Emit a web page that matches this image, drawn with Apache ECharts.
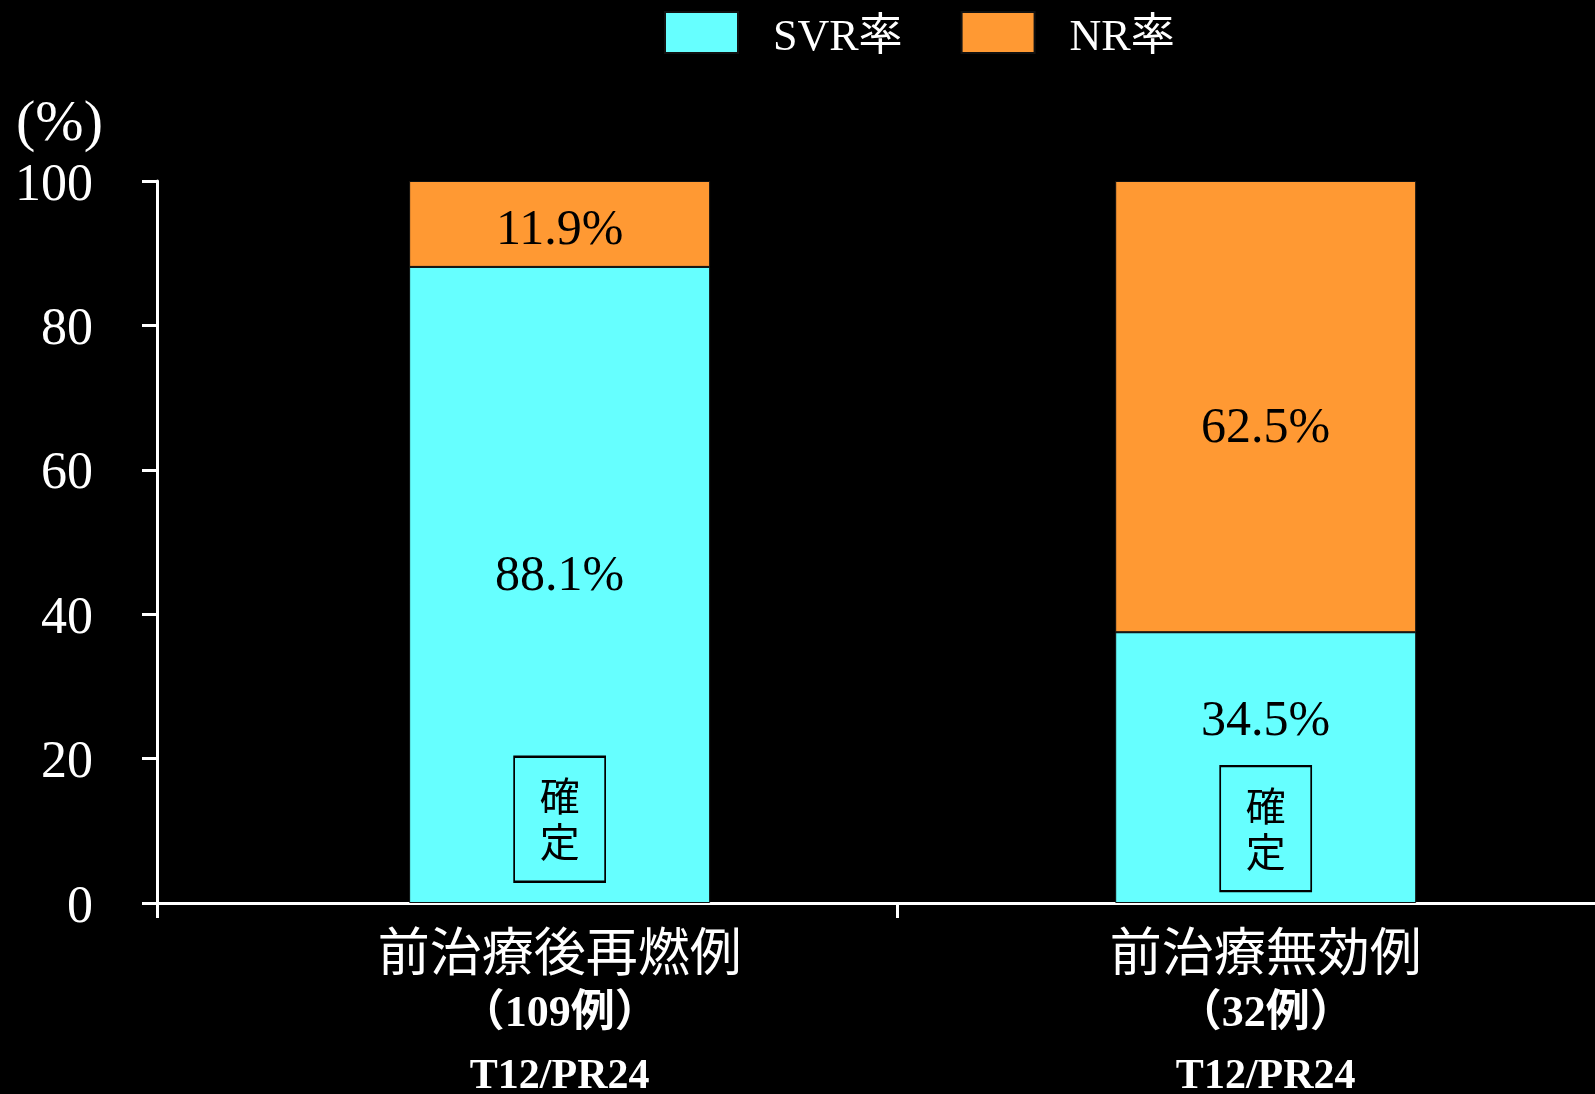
<!DOCTYPE html>
<html>
<head>
<meta charset="utf-8">
<title>SVR率 / NR率</title>
<script src="https://cdn.jsdelivr.net/npm/echarts@6.0.0/dist/echarts.min.js"></script>
<style>
	html, body { margin: 0; padding: 0; background: #000; }
	#chart { width: 1595px; height: 1094px; }
</style>
</head>
<body>
<div id="chart"></div>
<script>
// 区分
var categories = ['前治療後再燃例', '前治療無効例'];
var caseCounts = ['（109例）', '（32例）'];
var regimens = ['T12/PR24', 'T12/PR24'];
// 横軸上の位置 (0-100)
var catPos = [28.0, 77.1];
// 棒の高さ
var svrValues = [88.1, 37.5];
var nrValues = [11.9, 62.5];
// 表示ラベル
var svrLabels = ['88.1%', '34.5%'];
var nrLabels = ['11.9%', '62.5%'];
// 「確定」枠の高さ位置
var noteY = [11.6, 10.3];
var yTicks = [0, 20, 40, 60, 80, 100];

var serif = '"Liberation Serif", "Noto Sans CJK JP", serif';
var cjk = '"Noto Sans CJK JP", sans-serif';

// ラベルの上下ずれ
var svrOffsets = [-8, -46];
var nrOffsets = [7, 22];

function nearestIndex(v) {
	var idx = 0;
	for (var i = 1; i < catPos.length; i++) {
		if (Math.abs(catPos[i] - v) < Math.abs(catPos[idx] - v)) idx = i;
	}
	return idx;
}

// 値を先頭の次元に置く(積み上げ用)、x は encode で指定
var svrData = [], nrData = [], noteData = [];
for (var i = 0; i < catPos.length; i++) {
	svrData.push({ value: [svrValues[i], catPos[i]], label: { offset: [0, svrOffsets[i]] } });
	nrData.push({ value: [nrValues[i], catPos[i]], label: { offset: [0, nrOffsets[i]] } });
	noteData.push({ coord: [catPos[i], noteY[i]] });
}

var barLabel = {
	show: true,
	position: 'inside',
	color: '#000',
	fontSize: 50,
	fontFamily: serif
};

var option = {
	backgroundColor: '#000',
	animation: false,
	legend: {
		data: ['SVR率', 'NR率'],
		left: 664,
		top: 11,
		padding: 0,
		icon: 'rect',
		itemWidth: 73,
		itemHeight: 41,
		itemGap: 58,
		formatter: function(name) {
			return '{t|' + name + '}';
		},
		textStyle: {
			color: '#fff',
			fontSize: 44,
			fontFamily: serif,
			rich: {
				t: { color: '#fff', fontSize: 44, fontFamily: serif, padding: [12, 0, 0, 30] }
			}
		}
	},
	grid: {
		left: 157,
		right: 0,
		top: 181,
		bottom: 191,
		containLabel: false,
		outerBoundsMode: 'none'
	},
	xAxis: {
		type: 'value',
		min: 0,
		max: 100,
		splitLine: { show: false },
		axisLine: { show: true, onZero: false, lineStyle: { color: '#fff', width: 3 } },
		axisTick: {
			show: true,
			inside: false,
			length: 15,
			customValues: [0, 51.5],
			lineStyle: { color: '#fff', width: 3 }
		},
		axisLabel: {
			show: true,
			customValues: catPos,
			margin: 17,
			color: '#fff',
			formatter: function(v) {
				var k = nearestIndex(v);
				return '{a|' + categories[k] + '}\n{b|' + caseCounts[k] + '}\n{c|' + regimens[k] + '}';
			},
			rich: {
				a: { fontSize: 52, fontFamily: cjk, color: '#fff', lineHeight: 63 },
				b: { fontSize: 44, fontFamily: serif, fontWeight: 'bold', color: '#fff', lineHeight: 63 },
				c: { fontSize: 42, fontFamily: serif, fontWeight: 'bold', color: '#fff', lineHeight: 63 }
			}
		}
	},
	yAxis: {
		type: 'value',
		min: 0,
		max: 100,
		interval: 20,
		name: '(%)',
		nameLocation: 'end',
		nameGap: 27,
		nameTextStyle: {
			color: '#fff',
			fontSize: 58,
			fontFamily: serif,
			align: 'right',
			verticalAlign: 'bottom',
			padding: [0, 54, 0, 0]
		},
		splitLine: { show: false },
		axisLine: { show: true, lineStyle: { color: '#fff', width: 3 } },
		axisTick: { show: true, inside: false, length: 15, lineStyle: { color: '#fff', width: 3 } },
		axisLabel: {
			color: '#fff',
			margin: 64,
			formatter: function(v) {
				return yTicks.indexOf(v) >= 0 ? '{v|' + v + '}' : '';
			},
			rich: {
				v: { color: '#fff', fontSize: 52, fontFamily: serif, padding: [10, 0, 0, 0] }
			}
		}
	},
	series: [
		{
			name: 'SVR率',
			type: 'bar',
			stack: 'rate',
			barWidth: 301,
			encode: { x: 1, y: 0 },
			itemStyle: { color: '#66FFFF', borderColor: '#111', borderWidth: 1 },
			label: Object.assign({}, barLabel, {
				formatter: function(p) { return svrLabels[p.dataIndex]; }
			}),
			data: svrData,
			markPoint: {
				silent: true,
				symbol: 'rect',
				symbolSize: [91, 125],
				itemStyle: { color: 'rgba(0,0,0,0)', borderColor: '#000', borderWidth: 2 },
				label: {
					show: true,
					position: 'inside',
					formatter: '確\n定',
					color: '#000',
					fontSize: 40,
					lineHeight: 46,
					fontFamily: cjk
				},
				data: noteData
			}
		},
		{
			name: 'NR率',
			type: 'bar',
			stack: 'rate',
			barWidth: 301,
			encode: { x: 1, y: 0 },
			itemStyle: { color: '#FF9933', borderColor: '#111', borderWidth: 1 },
			label: Object.assign({}, barLabel, {
				formatter: function(p) { return nrLabels[p.dataIndex]; }
			}),
			data: nrData
		}
	]
};

var myChart = echarts.init(document.getElementById('chart'));
myChart.setOption(option);
</script>
</body>
</html>
